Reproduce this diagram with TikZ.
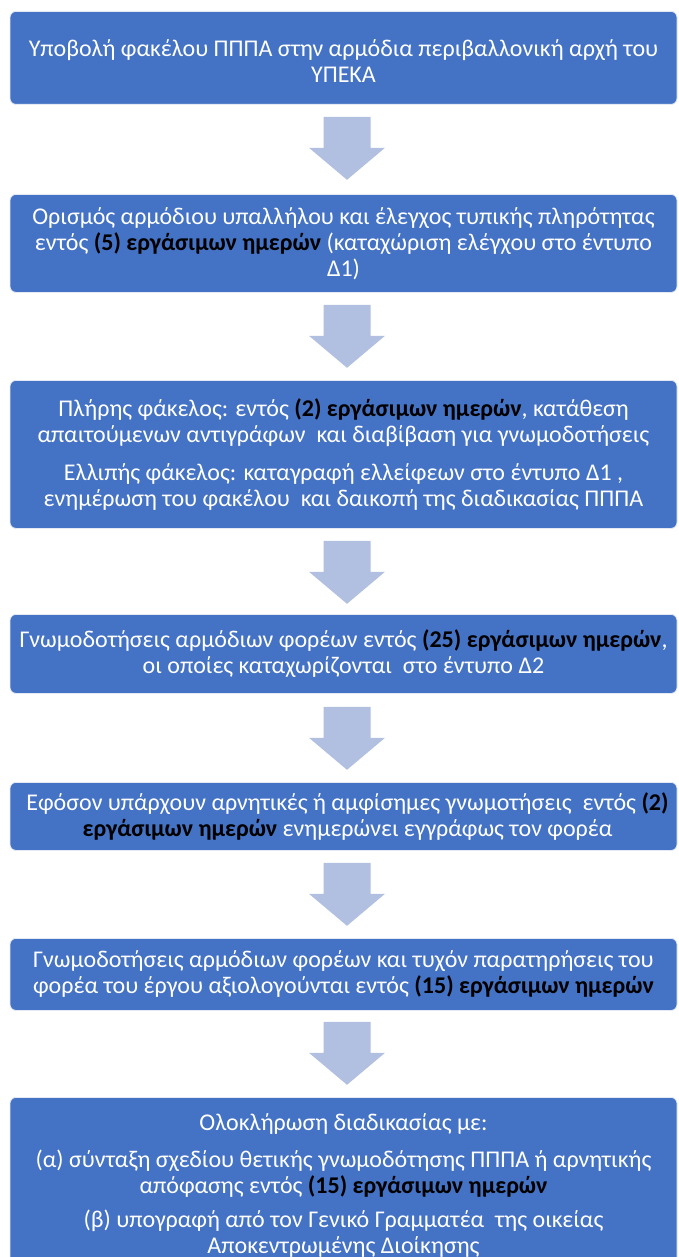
\documentclass[tikz,border=0pt]{standalone}
\usepackage{fontspec}
\setmainfont{Carlito}
\usetikzlibrary{calc}
\definecolor{boxblue}{HTML}{4472C4}
\definecolor{arrowblue}{HTML}{B1BFE1}
\newcommand{\blk}[1]{\textbf{\color{black}#1}}
\tikzset{
  x=1pt, y=1pt,
  flowbox/.style={draw=white!85!boxblue, line width=0.8pt, fill=boxblue, rounded corners=6pt,
    minimum width=667pt, inner sep=0pt, anchor=north},
  boxtxt/.style={text=white, align=center, inner sep=0pt, font=\fontsize{24}{26}\selectfont},
  downarrow/.pic={\fill[arrowblue] (-23.5,0) -- (23.5,0) -- (23.5,-31) -- (38,-31) -- (0,-63)
     -- (-38,-31) -- (-23.5,-31) -- cycle;}
}
\begin{document}
\begin{tikzpicture}
\useasboundingbox (0,0) rectangle (678,-1257);
\node[flowbox, minimum height=93pt] (b1) at (343.5,-11) {};
\node[flowbox, minimum height=98pt] (b2) at (343.5,-194) {};
\node[flowbox, minimum height=148pt] (b3) at (343.5,-380) {};
\node[flowbox, minimum height=79pt] (b4) at (343.5,-614) {};
\node[flowbox, minimum height=68pt] (b5) at (343.5,-782) {};
\node[flowbox, minimum height=72pt] (b6) at (343.5,-938) {};
\node[flowbox, minimum height=180pt] (b7) at (343.5,-1097) {};

\node[boxtxt] (t1) at ($(b1.center)+(0,-3)$) {Υποβολή φακέλου ΠΠΠΑ στην αρμόδια περιβαλλονική αρχή του\\ ΥΠΕΚΑ};
\node[boxtxt] (t2) at (b2.center) {Ορισμός αρμόδιου υπαλλήλου και έλεγχος τυπικής πληρότητας\\ εντός \blk{(5) εργάσιμων ημερών} (καταχώριση ελέγχου στο έντυπο\\ Δ1)};
\node[boxtxt] (t3) at (b3.center) {Πλήρης φάκελος: εντός \blk{(2) εργάσιμων ημερών}, κατάθεση\\ απαιτούμενων αντιγράφων~ και διαβίβαση για γνωμοδοτήσεις\\[12pt] Ελλιπής φάκελος: καταγραφή ελλείφεων στο έντυπο Δ1 ,\\ ενημέρωση του φακέλου~ και δαικοπή της διαδικασίας ΠΠΠΑ};
\node[boxtxt] (t4) at (b4.center) {Γνωμοδοτήσεις αρμόδιων φορέων εντός \blk{(25) εργάσιμων ημερών},\\ οι οποίες καταχωρίζονται~ στο έντυπο Δ2};
\node[boxtxt] (t5) at ($(b5.center)+(4,0)$) {Εφόσον υπάρχουν αρνητικές ή αμφίσημες γνωμοτήσεις~ εντός \blk{(2)}\\ \blk{εργάσιμων ημερών} ενημερώνει εγγράφως τον φορέα};
\node[boxtxt] (t6) at (b6.center) {Γνωμοδοτήσεις αρμόδιων φορέων και τυχόν παρατηρήσεις του\\ φορέα του έργου αξιολογούνται εντός \blk{(15) εργάσιμων ημερών}};
\node[boxtxt, anchor=north] (t7) at ($(b7.north)+(0,-16)$) {Ολοκλήρωση διαδικασίας με:\\[11pt] (α) σύνταξη σχεδίου θετικής γνωμοδότησης ΠΠΠΑ ή αρνητικής\\ απόφασης εντός \blk{(15) εργάσιμων ημερών}\\[8pt] (β) υπογραφή από τον Γενικό Γραμματέα~ της οικείας\\ Αποκεντρωμένης Διοίκησης};

\pic at ($(b1.south)+(3.5,-12)$) {downarrow};
\pic at ($(b2.south)+(3.5,-12)$) {downarrow};
\pic at ($(b3.south)+(3.5,-12)$) {downarrow};
\pic at ($(b4.south)+(3.5,-13)$) {downarrow};
\pic at ($(b5.south)+(3.5,-12)$) {downarrow};
\pic at ($(b6.south)+(3.5,-11)$) {downarrow};
\end{tikzpicture}
\end{document}
